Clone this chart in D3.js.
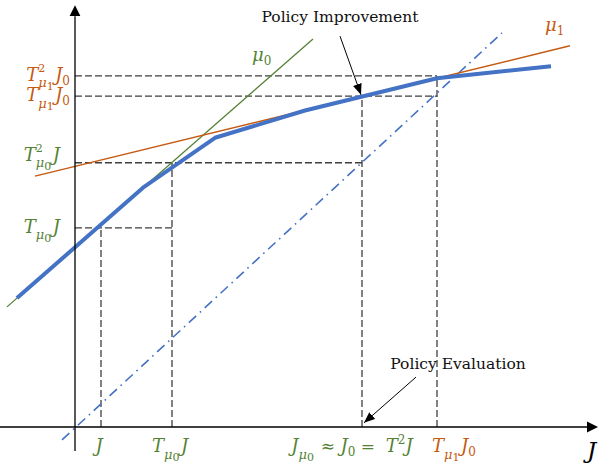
<!DOCTYPE html>
<html>
<head>
<meta charset="utf-8">
<script src="https://cdn.jsdelivr.net/npm/d3@7"></script>
<style>
    body { margin: 0; background: #fff; }
    svg { display: block; font-family: "DejaVu Serif", serif; }
</style>
</head>
<body>
<svg id="chart" width="604" height="463"></svg>
<script>
(function(){
    "use strict";

    // cost curve T J (piecewise linear, concave) and the two policy lines
    var costCurve = [[-1.16, 2.79], [1.36, 5.18], [2.80, 6.26], [4.60, 6.85], [7.24, 7.55], [9.52, 7.81]];
    var lineMu0 = [[-1.36, 2.60], [4.76, 8.40]];
    var lineMu1 = [[-0.80, 5.43], [9.90, 8.25]];
    var diagonal = [[-0.26, -0.28], [8.54, 8.53]];

    // iterate levels on each axis
    var xLevels = [0.52, 1.94, 5.74, 7.24];
    var yLevels = [4.31, 5.72, 7.16, 7.60];

    // labels, written as [text, role] pieces
    var xLabels = [
        [["J", "b"]],
        [["T", "b"], ["μ", "sub"], ["0", "sub2"], ["J", "b"]],
        [["J", "b"], ["μ", "sub"], ["0", "sub2"], ["\u00a0≈\u00a0", "n"], ["J", "b"], ["0", "subn"],
         ["\u00a0=\u00a0\u00a0", "n"], ["T", "b"], ["2", "supa"], ["J", "b"]],
        [["T", "b"], ["μ", "sub"], ["1", "sub2"], ["J", "b"], ["0", "subn"]]
    ];
    var yLabels = [
        [["T", "b"], ["μ", "sub"], ["0", "sub2"], ["J", "b"]],
        [["T", "b"], ["2", "sup"], ["μ", "sub"], ["0", "sub2"], ["J", "b"]],
        [["T", "b"], ["μ", "sub"], ["1", "sub2"], ["J", "b"], ["0", "subn"]],
        [["T", "b"], ["2", "sup"], ["μ", "sub"], ["1", "sub2"], ["J", "b"], ["0", "subn"]]
    ];
    var lineLabels = [
        [["μ", "b"], ["0", "subn"]],
        [["μ", "b"], ["1", "subn"]]
    ];
    var annotationText = ["Policy Improvement", "Policy Evaluation"];
    var annotationFrom = [[5.30, 8.46], [6.82, 1.08]];
    var annotationTo = [[5.72, 7.19], [5.78, 0.09]];

    var orange = "#c55a11",
        green = "#548235",
        blue = "#4472c4",
        guide = "#3f3f3f";

    var svg = d3.select("#chart");

    var x = d3.scaleLinear().domain([0, 10]).range([75, 575]);
    var y = d3.scaleLinear().domain([0, 10]).range([427, -35]);

    var line = d3.line()
        .x(function(d){ return x(d[0]); })
        .y(function(d){ return y(d[1]); });

    var defs = svg.append("defs");
    defs.append("marker")
        .attr("id", "axisHead")
        .attr("markerUnits", "userSpaceOnUse")
        .attr("markerWidth", 12).attr("markerHeight", 12)
        .attr("viewBox", "0 -6 12 12")
        .attr("refX", 0).attr("refY", 0)
        .attr("orient", "auto")
        .append("path").attr("d", "M0,-5.5L11,0L0,5.5Z").attr("fill", "#000");
    defs.append("marker")
        .attr("id", "noteHead")
        .attr("markerUnits", "userSpaceOnUse")
        .attr("markerWidth", 12).attr("markerHeight", 10)
        .attr("viewBox", "0 -5 12 10")
        .attr("refX", 11).attr("refY", 0)
        .attr("orient", "auto")
        .append("path").attr("d", "M0,-4.5L11,0L0,4.5Z").attr("fill", "#000");

    /*
        dashed guides: vertical from the x level up to the y level,
        horizontal from the y axis across to the next x level
    */
    var guides = [];
    for(var i = 0; i < xLevels.length; i++){
        var nextX = xLevels[Math.min(i + 1, xLevels.length - 1)];
        guides.push([[xLevels[i], 0], [xLevels[i], yLevels[i]]]);
        guides.push([[0, yLevels[i]], [nextX, yLevels[i]]]);
    }
    svg.append("g").selectAll("path")
        .data(guides)
        .enter().append("path")
        .attr("d", line)
        .attr("fill", "none")
        .attr("stroke", guide)
        .attr("stroke-width", 1.3)
        .attr("stroke-dasharray", "7,3");

    svg.append("path")
        .attr("d", line(diagonal))
        .attr("fill", "none")
        .attr("stroke", blue)
        .attr("stroke-width", 1.6)
        .attr("stroke-dasharray", "10,5,1.6,5");

    svg.append("path")
        .attr("d", line(lineMu0))
        .attr("fill", "none")
        .attr("stroke", green)
        .attr("stroke-width", 1.3);

    svg.append("path")
        .attr("d", line(lineMu1))
        .attr("fill", "none")
        .attr("stroke", orange)
        .attr("stroke-width", 1.5);

    svg.append("path")
        .attr("d", line(costCurve))
        .attr("fill", "none")
        .attr("stroke", blue)
        .attr("stroke-width", 4)
        .attr("stroke-linejoin", "round");

    // axes
    svg.append("line")
        .attr("x1", x(-1.5)).attr("y1", y(0))
        .attr("x2", x(10.24)).attr("y2", y(0))
        .attr("stroke", "#000").attr("stroke-width", 1.3)
        .attr("marker-end", "url(#axisHead)");
    svg.append("line")
        .attr("x1", x(0)).attr("y1", y(-0.52))
        .attr("x2", x(0)).attr("y2", y(8.89))
        .attr("stroke", "#000").attr("stroke-width", 1.3)
        .attr("marker-end", "url(#axisHead)");

    // annotation arrows
    svg.append("g").selectAll("line")
        .data(annotationFrom)
        .enter().append("line")
        .attr("x1", function(d){ return x(d[0]); })
        .attr("y1", function(d){ return y(d[1]); })
        .attr("x2", function(d, i){ return x(annotationTo[i][0]); })
        .attr("y2", function(d, i){ return y(annotationTo[i][1]); })
        .attr("stroke", "#000").attr("stroke-width", 1)
        .attr("marker-end", "url(#noteHead)");

    var notePos = [[340, 22], [458, 369]];
    svg.append("g").selectAll("text")
        .data(annotationText)
        .enter().append("text")
        .attr("x", function(d, i){ return notePos[i][0]; })
        .attr("y", function(d, i){ return notePos[i][1]; })
        .attr("text-anchor", "middle")
        .style("font-size", "15.5px")
        .attr("fill", "#111")
        .text(function(d){ return d; });

    /*
        math label from pieces, one text element with a tspan per piece;
        roles set size and baseline shift, a stacked superscript does not
        move the pen so the subscript after it starts under it
    */
    var roles = {
        b:    {size: 18, dy: 0,   italic: true,  adv: true, gap: 0},
        n:    {size: 17, dy: 0,   italic: false, adv: true, gap: 0},
        sup:  {size: 11, dy: -9,  italic: false, adv: false, gap: 0},
        supa: {size: 12, dy: -8,  italic: false, adv: true, gap: 0},
        sub:  {size: 13, dy: 6.5, italic: true,  adv: true, gap: 0},
        subn: {size: 12, dy: 4,   italic: false, adv: true, gap: 0},
        sub2: {size: 11, dy: 9,   italic: false, adv: true, gap: 1.5}
    };

    function drawMath(parts, px, py, anchor, color){
        var text = svg.append("text").attr("y", py).attr("fill", color);
        var pen = 0, width = 0, shift = 0, nextDx = 0;
        parts.forEach(function(p){
            var r = roles[p[1]];
            var t = text.append("tspan")
                .attr("dy", r.dy - shift)
                .style("font-size", r.size + "px")
                .style("font-style", r.italic ? "italic" : "normal")
                .text(p[0]);
            if(nextDx){
                t.attr("dx", nextDx);
                pen += nextDx;
            }
            shift = r.dy;
            var w = t.node().getComputedTextLength();
            width = Math.max(width, pen + w);
            if(r.adv){
                pen += w;
                nextDx = r.gap;
            } else {
                nextDx = -w;
                pen += w;
            }
        });
        var x0 = px;
        if(anchor == "end"){
            x0 = px - width;
        } else if(anchor == "middle"){
            x0 = px - width / 2;
        }
        text.attr("x", x0);
    }

    var xLabelShift = [-2, -2, -10, 17];
    var xLabelColor = [green, green, green, orange];
    xLabels.forEach(function(parts, i){
        drawMath(parts, x(xLevels[i]) + xLabelShift[i], 452, "middle", xLabelColor[i]);
    });

    var yLabelRight = [60, 60, 70, 70];
    var yLabelShift = [5, -2, 5, 5];
    var yLabelColor = [green, green, orange, orange];
    yLabels.forEach(function(parts, i){
        drawMath(parts, yLabelRight[i], y(yLevels[i]) + yLabelShift[i], "end", yLabelColor[i]);
    });

    drawMath(lineLabels[0], 252, 61, "start", green);
    drawMath(lineLabels[1], 545, 31, "start", orange);

    svg.append("text")
        .attr("x", 587).attr("y", 458)
        .style("font-size", "23px")
        .style("font-style", "italic")
        .attr("fill", "#000")
        .text("J");
}());
</script>
</body>
</html>
